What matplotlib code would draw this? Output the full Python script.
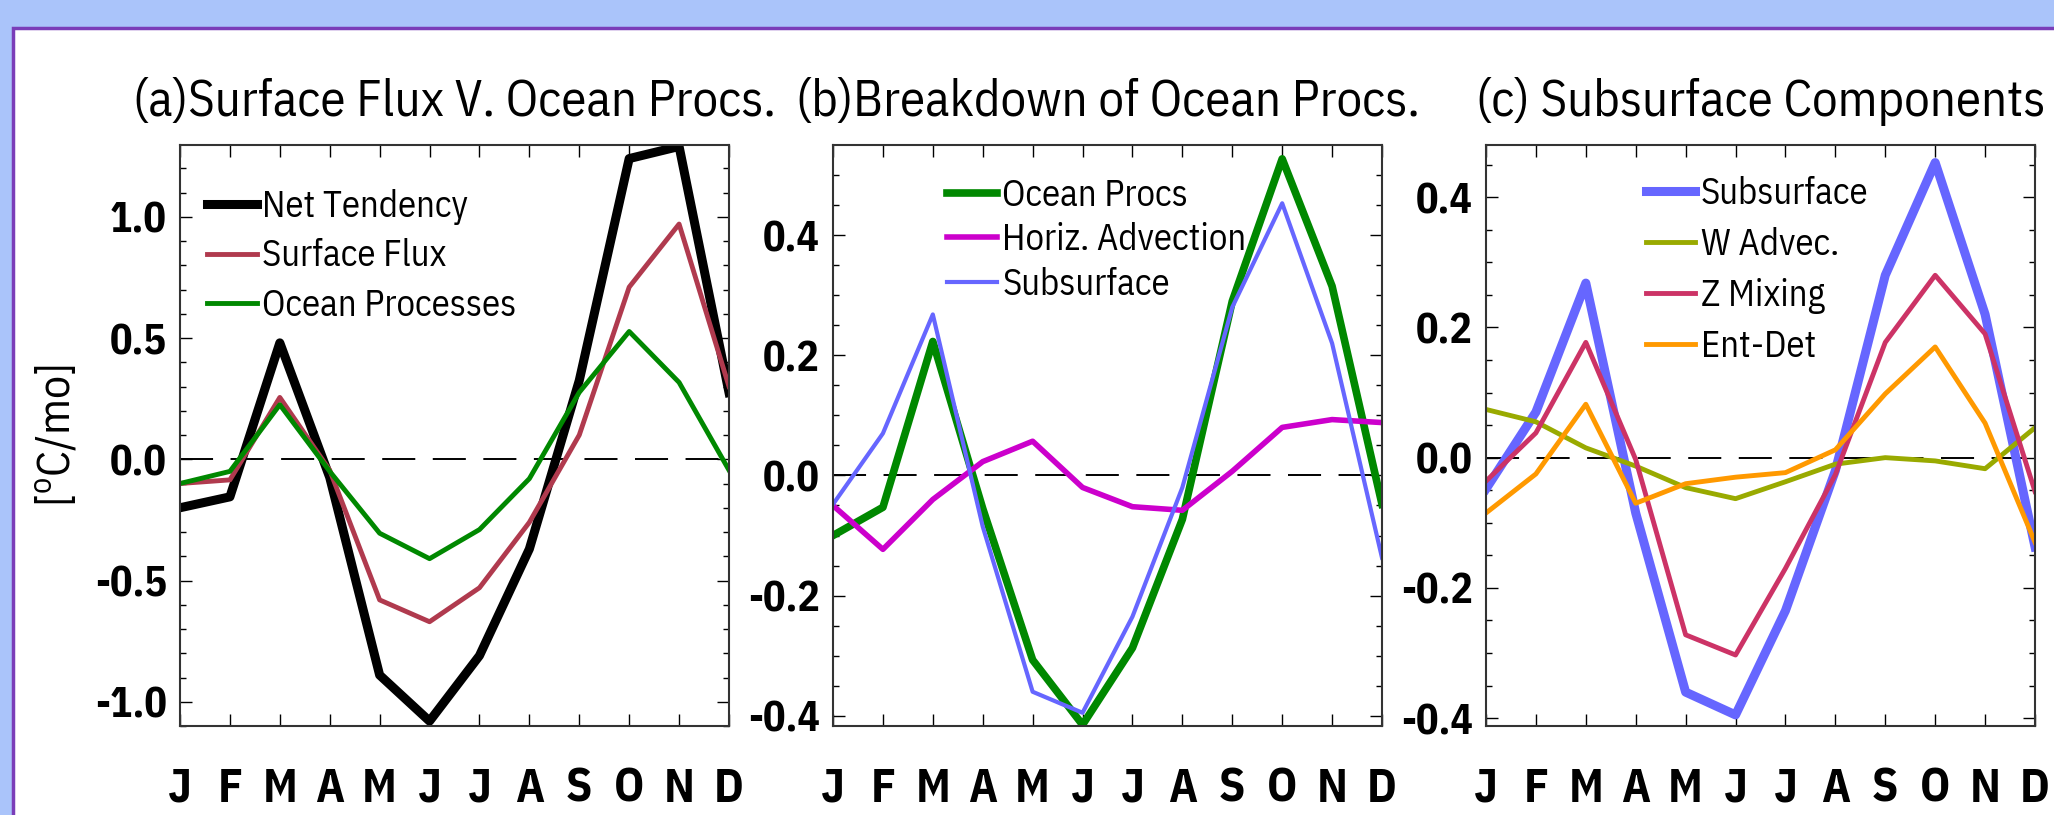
import matplotlib
matplotlib.use("Agg")
import matplotlib.pyplot as plt
from matplotlib.patches import Rectangle

# month axis
months = ['J', 'F', 'M', 'A', 'M', 'J', 'J', 'A', 'S', 'O', 'N', 'D']

# (a) surface flux v. ocean processes
net_tendency = [-0.20, -0.155, 0.48, -0.075, -0.89, -1.08, -0.81, -0.37, 0.325, 1.24, 1.29, 0.275]
surface_flux = [-0.10, -0.085, 0.255, -0.045, -0.58, -0.67, -0.53, -0.26, 0.10, 0.71, 0.97, 0.30]
ocean_processes = [-0.10, -0.05, 0.225, -0.05, -0.305, -0.41, -0.29, -0.08, 0.276, 0.527, 0.317, -0.045]

# (b) breakdown of ocean processes
ocean_procs = [-0.10, -0.053, 0.223, -0.055, -0.307, -0.415, -0.287, -0.073, 0.29, 0.527, 0.315, -0.048]
horiz_advection = [-0.05, -0.123, -0.04, 0.023, 0.057, -0.02, -0.052, -0.058, 0.007, 0.08, 0.093, 0.088]
subsurface = [-0.048, 0.07, 0.268, -0.085, -0.36, -0.395, -0.235, -0.02, 0.28, 0.453, 0.22, -0.137]

# (c) subsurface components
w_advec = [0.074, 0.055, 0.015, -0.013, -0.046, -0.063, -0.037, -0.01, 0.0, -0.005, -0.017, 0.046]
z_mixing = [-0.036, 0.038, 0.177, -0.003, -0.272, -0.303, -0.17, -0.026, 0.177, 0.28, 0.19, -0.052]
ent_det = [-0.085, -0.025, 0.082, -0.07, -0.04, -0.03, -0.023, 0.012, 0.098, 0.17, 0.053, -0.13]

titles = ['(a)Surface Flux V. Ocean Procs.', '(b)Breakdown of Ocean Procs.', '(c) Subsurface Components']

FONT = 'IBM Plex Sans Condensed'
plt.rcParams['font.family'] = [FONT, 'DejaVu Sans']
plt.rcParams['mathtext.fontset'] = 'custom'
plt.rcParams['mathtext.rm'] = FONT

W, H = 2054, 815
fig = plt.figure(figsize=(W / 100, H / 100), dpi=100)
fig.patch.set_facecolor('#aac4fa')
fig.add_artist(Rectangle((13 / W, -0.1), 1.2, 1.1 - 28 / H, transform=fig.transFigure,
                         facecolor='white', edgecolor='#7a3db8', linewidth=2.5, zorder=-5))

x = list(range(12))
ax_left = [180, 833, 1486]
axes = [fig.add_axes([l / W, 1 - 726 / H, 549 / W, 581 / H]) for l in ax_left]

leg_kw = dict(loc='upper left', frameon=False, fontsize=26.5, handlelength=1.35,
              handletextpad=0.15, borderpad=0, borderaxespad=0)

# panel a
ax = axes[0]
ax.plot(x, net_tendency, color='black', lw=6.5, label='Net Tendency')
ax.plot(x, surface_flux, color='#b03a4e', lw=3.5, label='Surface Flux')
ax.plot(x, ocean_processes, color='#008800', lw=3.5, label='Ocean Processes')
ax.set_ylim(-1.1, 1.296)
ax.set_yticks([-1.0, -0.5, 0.0, 0.5, 1.0])
ax.set_yticks([i / 10 for i in range(-11, 13)], minor=True)
ax.set_ylabel(r'[$^{\rm o}$C/mo]', fontsize=33, va='center')
ax.yaxis.set_label_coords(-0.226, 0.5)
ax.legend(bbox_to_anchor=(0.049, 0.924), labelspacing=0.36, **leg_kw)

# panel b
ax = axes[1]
ax.plot(x, ocean_procs, color='#008800', lw=5.5, label='Ocean Procs')
ax.plot(x, horiz_advection, color='#cc00cc', lw=4, label='Horiz. Advection')
ax.plot(x, subsurface, color='#6666ff', lw=3, label='Subsurface')
ax.set_ylim(-0.417, 0.55)
ax.set_yticks([-0.4, -0.2, 0.0, 0.2, 0.4])
ax.set_yticks([i / 20 for i in range(-8, 11)], minor=True)
ax.legend(bbox_to_anchor=(0.208, 0.944), labelspacing=0.24, **leg_kw)

# panel c
ax = axes[2]
ax.plot(x, subsurface, color='#6666ff', lw=6.5, label='Subsurface')
ax.plot(x, w_advec, color='#99aa00', lw=3.5, label='W Advec.')
ax.plot(x, z_mixing, color='#cc3366', lw=3.5, label='Z Mixing')
ax.plot(x, ent_det, color='#ff9900', lw=3.5, label='Ent-Det')
ax.set_ylim(-0.412, 0.48)
ax.set_yticks([-0.4, -0.2, 0.0, 0.2, 0.4])
ax.set_yticks([i / 20 for i in range(-8, 10)], minor=True)
ax.legend(bbox_to_anchor=(0.291, 0.947), labelspacing=0.41, **leg_kw)

for ax, title in zip(axes, titles):
    ax.axhline(0, color='black', lw=1.4, ls=(0, (17, 9)), zorder=0)
    ax.set_xlim(0, 11)
    ax.set_xticks(x)
    ax.set_xticklabels(months, fontsize=34, fontweight='bold')
    ax.set_yticklabels(['%.1f' % v for v in ax.get_yticks()], fontsize=30, fontweight='bold')
    ax.tick_params(axis='x', which='both', direction='in', top=True, length=8.6, width=1, pad=30)
    ax.tick_params(axis='y', which='major', direction='in', right=True, length=8.6, width=1, pad=9.4)
    ax.tick_params(axis='y', which='minor', direction='in', right=True, length=4.3, width=1)
    for s in ax.spines.values():
        s.set_linewidth(1.5)
        s.set_color('#333333')
    ax.text(0.5, 1 + 29 / 581, title, transform=ax.transAxes, ha='center', va='baseline',
            fontsize=36.5)

fig.savefig('out.png', dpi=100, facecolor=fig.get_facecolor())
